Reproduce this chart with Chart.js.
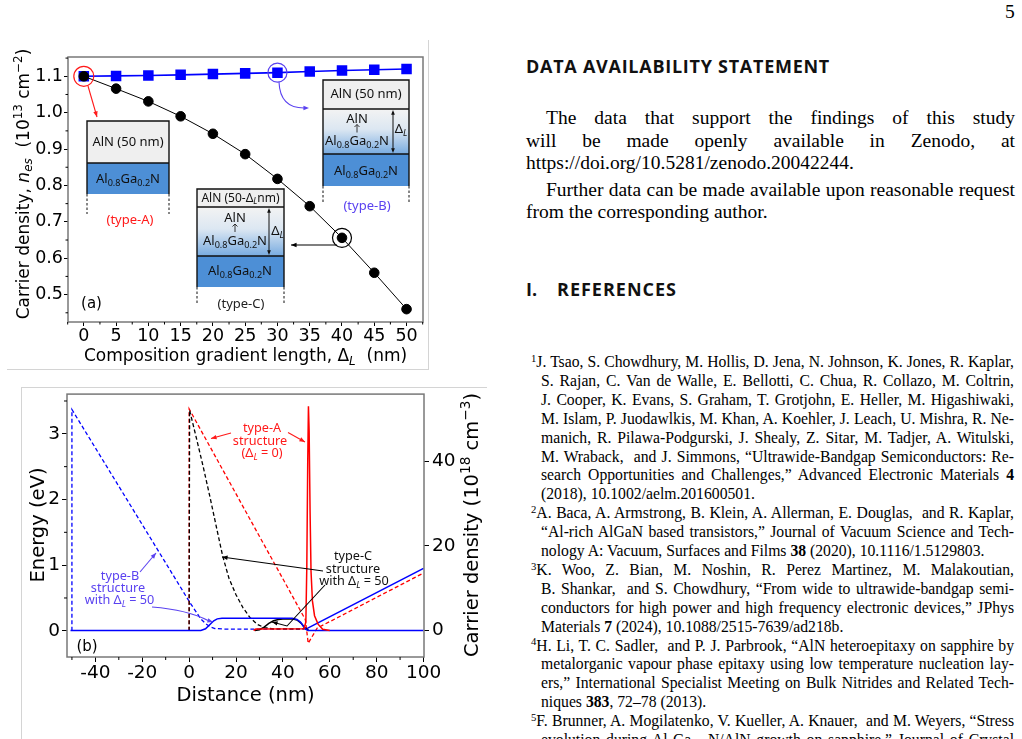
<!DOCTYPE html>
<html>
<head>
<meta charset="utf-8">
<script src="https://cdn.jsdelivr.net/npm/chart.js@4.4.1/dist/chart.umd.min.js"></script>
<style>
  html, body { margin: 0; padding: 0; background: #fff; }
  body { width: 1022px; height: 739px; position: relative; overflow: hidden; }
  canvas { position: absolute; left: 0; }
  #chartA { top: 0; }
  #chartB { top: 380px; }
  .rule { position: absolute; background: #d4d4d4; }
  .txt { position: absolute; white-space: pre; font-family: 'Liberation Serif', serif; color: #000; }
  .body { font-size: 19.5px; line-height: 19.5px; }
  .ref { font-size: 15.7px; line-height: 15.7px; }
  .txt sup { font-size: 0.68em; position: relative; top: -0.5em; vertical-align: baseline; line-height: 0; }
  .txt sub { font-size: 0.68em; position: relative; top: 0.25em; vertical-align: baseline; line-height: 0; }
  .head { position: absolute; white-space: pre; font-family: 'Open Sans', sans-serif; font-weight: 700; font-size: 18px; line-height: 18px; color: #111; }
</style>
</head>
<body>
<canvas id="chartA" width="440" height="380"></canvas>
<canvas id="chartB" width="490" height="340"></canvas>
<div class="rule" style="left:428px;top:40px;width:1px;height:330px"></div>
<div class="rule" style="left:7px;top:369px;width:422px;height:1px"></div>
<div class="rule" style="left:21px;top:387px;width:466px;height:1px"></div>
<div class="rule" style="left:21px;top:387px;width:1px;height:352px"></div>
<div id="text"></div>
<script>
Chart.defaults.font.family = 'DejaVu Sans';
Chart.defaults.color = '#000';

// ---- (a) sheet carrier density vs composition gradient length ----
const gradLength = [0, 5, 10, 15, 20, 25, 30, 35, 40, 45, 50];
const nesTypeC = [1.100, 1.066, 1.031, 0.990, 0.942, 0.886, 0.818, 0.743, 0.656, 0.560, 0.460];
const nesTypeB = [1.100, 1.101, 1.102, 1.104, 1.106, 1.108, 1.110, 1.113, 1.116, 1.118, 1.120];
const ticksAx = [0, 5, 10, 15, 20, 25, 30, 35, 40, 45, 50];
const ticksAy = [0.5, 0.6, 0.7, 0.8, 0.9, 1.0, 1.1];
const minorAx = [-2.5, 2.5, 7.5, 12.5, 17.5, 22.5, 27.5, 32.5, 37.5, 42.5, 47.5, 52.5];
const minorAy = [0.45, 0.55, 0.65, 0.75, 0.85, 0.95, 1.05, 1.15];

// ---- (b) conduction band (eV) and carrier density (1e18 cm^-3) vs distance (nm) ----
const cbTypeBx = [-50, -50, 0.5, 5, 7, 9, 11, 15, 48, 50];
const cbTypeBy = [0, 3.37, 0.42, 0.18, 0.11, 0.06, 0.035, 0.027, 0.027, 0.03];
const cbTypeBGaNx = [50, 100];
const cbTypeBGaNy = [0.03, 0.95];
const cbTypeAx = [0, 0, 49.6, 50.8, 54.6, 100];
const cbTypeAy = [0, 3.38, 0.17, -0.19, 0.04, 0.88];
const cbTypeCx = [0, 0.2, 3, 6, 9, 12, 14.3, 17, 20, 23, 26, 29, 32, 36, 48, 50];
const cbTypeCy = [0, 3.36, 2.95, 2.5, 2.02, 1.52, 1.14, 0.8, 0.55, 0.35, 0.2, 0.1, 0.05, 0.03, 0.03, 0.04];
const nTypeAx = [27.5, 28.5, 49, 49.8, 50.2, 50.6, 50.9, 51.2, 51.6, 52, 52.6, 53.5, 55, 57, 60];
const nTypeAy = [0, 0.35, 0.4, 2, 15, 40, 53, 47, 28, 14, 7, 3.5, 1.5, 0.3, 0];
const nTypeBx = [-50.6, 5, 7, 9, 10.5, 12, 14, 44, 46, 47.5, 49, 50, 51, 100];
const nTypeBy = [0, 0, 0.4, 1.5, 2.3, 2.75, 2.9, 2.9, 2.6, 2.0, 0.8, 0.2, 0, 0];
const nTypeCx = [28, 30, 32, 34, 36, 38, 40, 44, 46, 48, 49.5, 51];
const nTypeCy = [0, 0.2, 0.8, 1.7, 2.3, 2.6, 2.7, 2.75, 2.5, 1.6, 0.5, 0];
const ticksBx = [-40, -20, 0, 20, 40, 60, 80, 100];
const ticksBy = [0, 1, 2, 3];
const ticksBy2 = [0, 20, 40];
const minorBx = [-50, -30, -10, 10, 30, 50, 70, 90];
const minorBy = [0.5, 1.5, 2.5, 3.5];

const RED = '#ff1a1a';
const VIOLET = '#5a42f0';
const SANS = '"DejaVu Sans"';
const NOTE = '"Noto Sans"';

const pts = (xs, ys) => xs.map((x, i) => ({ x, y: ys[i] }));
const fixTicks = list => scale => { scale.ticks = list.map(v => ({ value: v })); };

// ---- drawing helpers ----
function rich(ctx, parts, x, y, size, family, color, align = 'center') {
  const items = parts.map(([t, m = '']) => {
    const small = m.startsWith('sub') || m === 'sup';
    const font = `${m.endsWith('i') ? 'italic ' : ''}${small ? size * 0.7 : size}px ${family}`;
    ctx.font = font;
    const dy = m === 'sup' ? -size * 0.4 : m.startsWith('sub') ? size * 0.22 : 0;
    return { t, font, dy, w: ctx.measureText(t).width };
  });
  const total = items.reduce((s, it) => s + it.w, 0);
  let cx = align === 'center' ? x - total / 2 : align === 'right' ? x - total : x;
  ctx.fillStyle = color;
  ctx.textAlign = 'left';
  ctx.textBaseline = 'alphabetic';
  items.forEach(it => { ctx.font = it.font; ctx.fillText(it.t, cx, y + it.dy); cx += it.w; });
}
function label(ctx, parts, cx, cy, size, color) {
  rich(ctx, parts, cx, cy + size * 0.36, size, NOTE, color);
}
function frame(ctx, a) {
  ctx.strokeStyle = '#787878';
  ctx.lineWidth = 1.5;
  ctx.strokeRect(a.left, a.top, a.right - a.left, a.bottom - a.top);
}
function minor(ctx, scale, values, a, len) {
  ctx.strokeStyle = '#000';
  ctx.lineWidth = 1;
  ctx.beginPath();
  values.forEach(v => {
    const p = scale.getPixelForValue(v);
    if (scale.axis === 'x') { ctx.moveTo(p, a.bottom); ctx.lineTo(p, a.bottom + len); }
    else { ctx.moveTo(a.left, p); ctx.lineTo(a.left - len, p); }
  });
  ctx.stroke();
}
function head(ctx, x, y, ang, size, color) {
  ctx.fillStyle = color;
  ctx.beginPath();
  ctx.moveTo(x, y);
  ctx.lineTo(x - size * Math.cos(ang - 0.38), y - size * Math.sin(ang - 0.38));
  ctx.lineTo(x - size * Math.cos(ang + 0.38), y - size * Math.sin(ang + 0.38));
  ctx.closePath();
  ctx.fill();
}
function arrow(ctx, p, color, lw = 1.1, hs = 6) {
  ctx.strokeStyle = color;
  ctx.lineWidth = lw;
  ctx.beginPath();
  ctx.moveTo(p[0][0], p[0][1]);
  p.slice(1).forEach(q => ctx.lineTo(q[0], q[1]));
  ctx.stroke();
  const [x1, y1] = p[p.length - 2], [x2, y2] = p[p.length - 1];
  head(ctx, x2, y2, Math.atan2(y2 - y1, x2 - x1), hs, color);
}
function ring(ctx, x, y, r, color) {
  ctx.strokeStyle = color;
  ctx.lineWidth = 1.2;
  ctx.beginPath();
  ctx.arc(x, y, r, 0, Math.PI * 2);
  ctx.stroke();
}
function dblArrow(ctx, x, y0, y1) {
  ctx.strokeStyle = '#111';
  ctx.lineWidth = 1;
  ctx.beginPath(); ctx.moveTo(x, y0 + 2); ctx.lineTo(x, y1 - 2); ctx.stroke();
  head(ctx, x, y0, -Math.PI / 2, 5, '#111');
  head(ctx, x, y1, Math.PI / 2, 5, '#111');
}
function upTick(ctx, x, y) {
  ctx.strokeStyle = '#222';
  ctx.lineWidth = 0.9;
  ctx.beginPath();
  ctx.moveTo(x, y + 4); ctx.lineTo(x, y - 4);
  ctx.moveTo(x - 2.5, y - 1.5); ctx.lineTo(x, y - 4); ctx.lineTo(x + 2.5, y - 1.5);
  ctx.stroke();
}
function stack(ctx, x0, x1, layers, dashEnd) {
  layers.forEach(L => {
    if (L.grad) {
      const g = ctx.createLinearGradient(0, L.top, 0, L.bottom);
      g.addColorStop(0, '#f3f3f3');
      g.addColorStop(0.45, '#dce7f2');
      g.addColorStop(1, '#78abe0');
      ctx.fillStyle = g;
    } else ctx.fillStyle = L.fill;
    ctx.fillRect(x0, L.top, x1 - x0, L.bottom - L.top);
  });
  const top = layers[0].top, bot = layers[layers.length - 1].bottom;
  ctx.strokeStyle = '#111';
  ctx.lineWidth = 1.4;
  ctx.beginPath();
  ctx.moveTo(x0, bot); ctx.lineTo(x0, top); ctx.lineTo(x1, top); ctx.lineTo(x1, bot);
  layers.slice(1).forEach(L => { ctx.moveTo(x0, L.top); ctx.lineTo(x1, L.top); });
  ctx.stroke();
  ctx.setLineDash([2.5, 2]);
  ctx.lineWidth = 1;
  ctx.beginPath();
  ctx.moveTo(x0, bot); ctx.lineTo(x0, dashEnd);
  ctx.moveTo(x1, bot); ctx.lineTo(x1, dashEnd);
  ctx.stroke();
  ctx.setLineDash([]);
}
const GRAY = '#efefef', BLUE = '#4d8fd6';
const ALGAN = [['Al'], ['0.8', 'sub'], ['Ga'], ['0.2', 'sub'], ['N']];

const decorA = {
  id: 'decorA',
  afterDraw(chart) {
    const { ctx, chartArea: a, scales: { x, y } } = chart;
    ctx.save();
    frame(ctx, a);
    minor(ctx, x, minorAx, a, 2.5);
    minor(ctx, y, minorAy, a, 2.5);

    ring(ctx, x.getPixelForValue(gradLength[0]), y.getPixelForValue(nesTypeC[0]), 10, RED);
    arrow(ctx, [[88, 86], [97, 117]], RED);
    ring(ctx, x.getPixelForValue(gradLength[6]), y.getPixelForValue(nesTypeB[6]), 9.5, VIOLET);
    ctx.strokeStyle = VIOLET; ctx.lineWidth = 1.1;
    ctx.beginPath(); ctx.moveTo(279, 82); ctx.quadraticCurveTo(280, 108, 304, 108); ctx.stroke();
    head(ctx, 309, 108, 0, 6, VIOLET);
    ring(ctx, x.getPixelForValue(gradLength[8]), y.getPixelForValue(nesTypeC[8]), 9.5, '#000');
    arrow(ctx, [[337, 245], [291, 245]], '#000');

    // type-A stack
    stack(ctx, 87, 169, [{ top: 121, bottom: 163, fill: GRAY }, { top: 163, bottom: 194, fill: BLUE }], 214);
    label(ctx, [['AlN (50 nm)']], 128, 141, 13, '#111');
    label(ctx, ALGAN, 128, 178.5, 13, '#111');
    label(ctx, [['(type-A)']], 130, 219.5, 13, RED);

    // type-B stack
    stack(ctx, 323, 409, [{ top: 80, bottom: 109, fill: GRAY }, { top: 109, bottom: 154, grad: true }, { top: 154, bottom: 186, fill: BLUE }], 203);
    label(ctx, [['AlN (50 nm)']], 366, 93, 13, '#111');
    label(ctx, [['AlN']], 357, 118, 13, '#111');
    upTick(ctx, 357, 128.5);
    label(ctx, ALGAN, 357, 140, 13, '#111');
    dblArrow(ctx, 393, 110, 153);
    label(ctx, [['Δ'], ['L', 'subi']], 401, 128, 13, '#111');
    label(ctx, ALGAN, 366, 170.5, 13, '#111');
    label(ctx, [['(type-B)']], 367, 205, 13, VIOLET);

    // type-C stack
    stack(ctx, 197, 284, [{ top: 189, bottom: 207, fill: GRAY }, { top: 207, bottom: 256, grad: true }, { top: 256, bottom: 287, fill: BLUE }], 305);
    label(ctx, [['AlN (50-Δ'], ['L', 'subi'], ['nm)']], 240.5, 197.5, 12, '#111');
    label(ctx, [['AlN']], 235, 217, 13, '#111');
    upTick(ctx, 235, 228);
    label(ctx, ALGAN, 235, 240, 13, '#111');
    dblArrow(ctx, 269, 208, 255);
    label(ctx, [['Δ'], ['L', 'subi']], 277.5, 230.5, 13, '#111');
    label(ctx, ALGAN, 240, 270.5, 13, '#111');
    label(ctx, [['(type-C)']], 241, 303, 13, '#222');

    rich(ctx, [['(a)']], 91.5, 308, 15, SANS, '#000');

    // axis titles
    rich(ctx, [['Composition gradient length, Δ'], ['L', 'subi'], ['  (nm)']], (a.left + a.right) / 2, 361, 17, SANS, '#000');
    ctx.save();
    ctx.translate(28.5, 184);
    ctx.rotate(-Math.PI / 2);
    rich(ctx, [['Carrier density, '], ['n', 'i'], ['es', 'subi'], ['  (10'], ['13', 'sup'], [' cm'], ['−2', 'sup'], [')']], 0, 0, 17, SANS, '#000');
    ctx.restore();
    ctx.restore();
  }
};

const decorB = {
  id: 'decorB',
  afterDraw(chart) {
    const { ctx, chartArea: a, scales: { x, y } } = chart;
    ctx.save();
    frame(ctx, a);
    minor(ctx, x, minorBx, a, 3);
    minor(ctx, y, minorBy, a, 3);

    ctx.translate(0, -380); // annotations in page coordinates
    label(ctx, [['type-A']], 262, 427, 12.7, RED);
    label(ctx, [['structure']], 260, 440, 12.7, RED);
    label(ctx, [['(Δ'], ['L', 'subi'], [' = 0)']], 262, 452.5, 12.7, RED);
    arrow(ctx, [[231, 433], [211, 438.5]], RED, 1.1, 6);
    arrow(ctx, [[288, 432.5], [305, 442]], RED, 1.1, 6);

    label(ctx, [['type-C']], 353, 555.5, 12.7, '#111');
    label(ctx, [['structure']], 353, 568, 12.7, '#111');
    label(ctx, [['with Δ'], ['L', 'subi'], [' = 50']], 354, 580.5, 12.7, '#111');
    arrow(ctx, [[323, 571], [222, 557]], '#000', 1.1, 6);
    arrow(ctx, [[325, 585], [287, 626], [272, 622]], '#000', 1.1, 6);

    label(ctx, [['type-B']], 120, 575, 12.7, VIOLET);
    label(ctx, [['structure']], 118, 587, 12.7, VIOLET);
    label(ctx, [['with Δ'], ['L', 'subi'], [' = 50']], 119.5, 599.5, 12.7, VIOLET);
    arrow(ctx, [[140, 572], [156, 553]], VIOLET, 1.1, 6);
    ctx.strokeStyle = VIOLET; ctx.lineWidth = 1.1;
    ctx.beginPath(); ctx.moveTo(152, 607); ctx.quadraticCurveTo(188, 610, 208, 620.5); ctx.stroke();
    head(ctx, 213, 622, 0.3, 6, VIOLET);

    rich(ctx, [['(b)']], 87, 651, 15, SANS, '#000');
    rich(ctx, [['Distance (nm)']], (a.left + a.right) / 2, 700.5, 19.5, SANS, '#000');
    ctx.save();
    ctx.translate(44, 525);
    ctx.rotate(-Math.PI / 2);
    rich(ctx, [['Energy (eV)']], 0, 0, 19.5, SANS, '#000');
    ctx.restore();
    ctx.save();
    ctx.translate(478, 525);
    ctx.rotate(-Math.PI / 2);
    rich(ctx, [['Carrier density (10'], ['18', 'sup'], [' cm'], ['−3', 'sup'], [')']], 0, 0, 19.5, SANS, '#000');
    ctx.restore();
    ctx.restore();
  }
};

const tickGrid = len => ({ display: true, drawOnChartArea: false, drawTicks: true, tickLength: len, tickColor: '#000', tickWidth: 1 });

new Chart(document.getElementById('chartA'), {
  type: 'scatter',
  data: {
    datasets: [
      { data: pts(gradLength, nesTypeC), showLine: true, borderColor: '#000', backgroundColor: '#000', borderWidth: 1, pointRadius: 4.8, pointStyle: 'circle' },
      { data: pts(gradLength, nesTypeB), showLine: true, borderColor: '#0000ff', backgroundColor: '#0000ff', borderWidth: 1.6, pointRadius: 6.3, pointStyle: 'rect' }
    ]
  },
  options: {
    responsive: false, animation: false,
    layout: { padding: { top: 57, right: 17, left: 0, bottom: 0 } },
    plugins: { legend: { display: false }, tooltip: { enabled: false } },
    scales: {
      x: {
        type: 'linear', min: -2.45, max: 52.55,
        afterFit: s => { s.height = 58; },
        afterBuildTicks: fixTicks(ticksAx),
        ticks: { font: { size: 17.5 }, padding: 0, maxRotation: 0, autoSkip: false },
        grid: tickGrid(4), border: { display: false }
      },
      y: {
        type: 'linear', min: 0.4247, max: 1.153,
        afterFit: s => { s.width = 68; },
        afterBuildTicks: fixTicks(ticksAy),
        ticks: { font: { size: 17.5 }, padding: 1, autoSkip: false, callback: v => v.toFixed(1) },
        grid: tickGrid(4), border: { display: false }
      }
    }
  },
  plugins: [decorA]
});

const dashed = { borderWidth: 1.3, borderDash: [4, 2.5], pointRadius: 0, showLine: true };
const solid = { borderWidth: 1.5, pointRadius: 0, showLine: true };
new Chart(document.getElementById('chartB'), {
  type: 'scatter',
  data: {
    datasets: [
      { ...solid, data: pts(nTypeAx, nTypeAy), yAxisID: 'y2', borderColor: '#ff0000' },
      { ...solid, data: pts(nTypeBx, nTypeBy), yAxisID: 'y2', borderColor: '#0000ff' },
      { ...solid, data: pts(nTypeCx, nTypeCy), yAxisID: 'y2', borderColor: '#000' },
      { ...dashed, data: pts(cbTypeCx, cbTypeCy), yAxisID: 'y', borderColor: '#000' },
      { ...dashed, data: pts(cbTypeAx, cbTypeAy), yAxisID: 'y', borderColor: '#ff0000' },
      { ...dashed, data: pts(cbTypeBx, cbTypeBy), yAxisID: 'y', borderColor: '#0000ff' },
      { ...solid, data: pts(cbTypeBGaNx, cbTypeBGaNy), yAxisID: 'y', borderColor: '#0000ff' }
    ]
  },
  options: {
    responsive: false, animation: false,
    layout: { padding: { top: 13, right: 0, left: 0, bottom: 0 } },
    plugins: { legend: { display: false }, tooltip: { enabled: false } },
    scales: {
      x: {
        type: 'linear', min: -52.1, max: 100.2,
        afterFit: s => { s.height = 63; },
        afterBuildTicks: fixTicks(ticksBx),
        ticks: { font: { size: 18.5 }, padding: 0, maxRotation: 0, autoSkip: false },
        grid: tickGrid(5), border: { display: false }
      },
      y: {
        type: 'linear', position: 'left', min: -0.399, max: 3.605,
        afterFit: s => { s.width = 67; },
        afterBuildTicks: fixTicks(ticksBy),
        ticks: { font: { size: 18.5 }, padding: 2, autoSkip: false },
        grid: tickGrid(5), border: { display: false }
      },
      y2: {
        type: 'linear', position: 'right', min: -6.26, max: 55.86,
        afterFit: s => { s.width = 66; },
        afterBuildTicks: fixTicks(ticksBy2),
        ticks: { font: { size: 18.5 }, padding: 3, autoSkip: false },
        grid: tickGrid(5), border: { display: false }
      }
    }
  },
  plugins: [decorB]
});

// ---- right column text ----
const box = document.getElementById('text');
function addLine(html, cls, left, center, right) {
  const el = document.createElement('div');
  el.className = cls;
  el.innerHTML = html;
  box.appendChild(el);
  const fs = parseFloat(getComputedStyle(el).fontSize);
  el.style.left = left + 'px';
  el.style.top = (center - 0.57 * fs) + 'px';
  if (right) {
    const spaces = (el.textContent.match(/ /g) || []).length;
    const w = el.getBoundingClientRect().width;
    if (spaces) el.style.wordSpacing = ((right - left - w) / spaces) + 'px';
  }
  return el;
}
function addHead(text, left, center, width) {
  const el = document.createElement('div');
  el.className = 'head';
  el.textContent = text;
  box.appendChild(el);
  el.style.left = left + 'px';
  el.style.top = (center - 0.53 * 18) + 'px';
  if (width) el.style.letterSpacing = ((width - el.getBoundingClientRect().width) / text.length) + 'px';
}

addLine('5', 'txt body', 1005, 13, null);
addHead('DATA AVAILABILITY STATEMENT', 526, 67, 304);
const bodyLines = [
  ['The data that support the findings of this study', 546, 119.3, true],
  ['will be made openly available in Zenodo, at', 526, 141.7, true],
  ['https://doi.org/10.5281/zenodo.20042244.', 526, 164.5, false],
  ['Further data can be made available upon reasonable request', 546, 191.5, true],
  ['from the corresponding author.', 526, 213.5, false]
];
bodyLines.forEach(([t, l, c, j]) => addLine(t, 'txt body', l, c, j ? 1015 : null));
addHead('I.', 526, 290, null);
addHead('REFERENCES', 557, 290, 120);

const refLines = [
  ['<sup>1</sup>J. Tsao, S. Chowdhury, M. Hollis, D. Jena, N. Johnson, K. Jones, R. Kaplar,', 531, true],
  ['S. Rajan, C. Van de Walle, E. Bellotti, C. Chua, R. Collazo, M. Coltrin,', 541, true],
  ['J. Cooper, K. Evans, S. Graham, T. Grotjohn, E. Heller, M. Higashiwaki,', 541, true],
  ['M. Islam, P. Juodawlkis, M. Khan, A. Koehler, J. Leach, U. Mishra, R. Ne-', 541, true],
  ['manich, R. Pilawa-Podgurski, J. Shealy, Z. Sitar, M. Tadjer, A. Witulski,', 541, true],
  ['M. Wraback,  and J. Simmons, “Ultrawide-Bandgap Semiconductors: Re-', 541, true],
  ['search Opportunities and Challenges,” Advanced Electronic Materials <b>4</b>', 541, true],
  ['(2018), 10.1002/aelm.201600501.', 541, false],
  ['<sup>2</sup>A. Baca, A. Armstrong, B. Klein, A. Allerman, E. Douglas,  and R. Kaplar,', 531, true],
  ['“Al-rich AlGaN based transistors,” Journal of Vacuum Science and Tech-', 541, true],
  ['nology A: Vacuum, Surfaces and Films <b>38</b> (2020), 10.1116/1.5129803.', 541, false],
  ['<sup>3</sup>K. Woo, Z. Bian, M. Noshin, R. Perez Martinez, M. Malakoutian,', 531, true],
  ['B. Shankar,  and S. Chowdhury, “From wide to ultrawide-bandgap semi-', 541, true],
  ['conductors for high power and high frequency electronic devices,” JPhys', 541, true],
  ['Materials <b>7</b> (2024), 10.1088/2515-7639/ad218b.', 541, false],
  ['<sup>4</sup>H. Li, T. C. Sadler,  and P. J. Parbrook, “AlN heteroepitaxy on sapphire by', 531, true],
  ['metalorganic vapour phase epitaxy using low temperature nucleation lay-', 541, true],
  ['ers,” International Specialist Meeting on Bulk Nitrides and Related Tech-', 541, true],
  ['niques <b>383</b>, 72–78 (2013).', 541, false],
  ['<sup>5</sup>F. Brunner, A. Mogilatenko, V. Kueller, A. Knauer,  and M. Weyers, “Stress', 531, true],
  ['evolution during Al<sub>x</sub>Ga<sub>1−x</sub>N/AlN growth on sapphire,” Journal of Crystal', 541, true]
];
refLines.forEach(([t, l, j], i) => addLine(t, 'txt ref', l, 363 + 18.9 * i, j ? 1014 : null));
</script>
</body>
</html>
